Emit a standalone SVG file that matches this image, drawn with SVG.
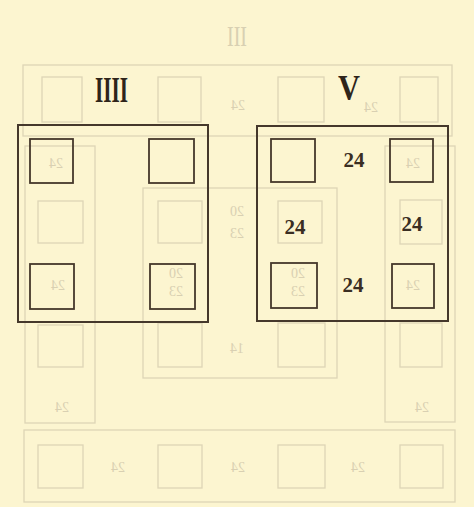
<svg xmlns="http://www.w3.org/2000/svg" width="474" height="507" viewBox="0 0 474 507">
<style>
.bg{fill:#fcf5d0}
.f{fill:none;stroke:#ddd5b5;stroke-width:1.3}
.b{fill:none;stroke:#45382b;stroke-width:2}
.bs{fill:none;stroke:#45382b;stroke-width:1.8}
.ft{font-family:"Liberation Serif",serif;font-size:14px;fill:#d9d0b2;text-anchor:middle}
.bt{font-family:"Liberation Serif",serif;font-weight:bold;font-size:21px;fill:#3a2e22;text-anchor:middle}
.rn{font-family:"Liberation Serif",serif;font-weight:bold;font-size:36px;fill:#2e241a;text-anchor:middle}
</style>
<rect class="bg" x="0" y="0" width="474" height="507"/>
<g id="faded">
  <text x="237" y="46" style="font-family:'Liberation Serif',serif;font-size:30px;fill:#d8d0b2;text-anchor:middle" textLength="20" lengthAdjust="spacingAndGlyphs">III</text>
  <rect class="f" x="23" y="65" width="429" height="71"/>
  <rect class="f" x="42" y="77" width="40" height="45"/>
  <rect class="f" x="158" y="77" width="43" height="45"/>
  <rect class="f" x="278" y="77" width="46" height="45"/>
  <rect class="f" x="400" y="77" width="38" height="45"/>
  <rect class="f" x="25" y="146" width="70" height="277"/>
  <rect class="f" x="385" y="146" width="70" height="276"/>
  <rect class="f" x="143" y="188" width="194" height="190"/>
  <rect class="f" x="38" y="201" width="45" height="42"/>
  <rect class="f" x="158" y="201" width="44" height="42"/>
  <rect class="f" x="278" y="201" width="44" height="42"/>
  <rect class="f" x="400" y="200" width="42" height="44"/>
  <rect class="f" x="38" y="325" width="45" height="42"/>
  <rect class="f" x="158" y="323" width="44" height="44"/>
  <rect class="f" x="278" y="323" width="47" height="44"/>
  <rect class="f" x="400" y="323" width="42" height="44"/>
  <rect class="f" x="24" y="430" width="431" height="72"/>
  <rect class="f" x="38" y="445" width="45" height="43"/>
  <rect class="f" x="158" y="445" width="44" height="43"/>
  <rect class="f" x="278" y="445" width="47" height="43"/>
  <rect class="f" x="400" y="445" width="43" height="43"/>
  <text class="ft" transform="translate(238,110) scale(-1,1)">24</text>
  <text class="ft" transform="translate(371,112) scale(-1,1)">24</text>
  <text class="ft" transform="translate(56,168) scale(-1,1)">24</text>
  <text class="ft" transform="translate(58,290) scale(-1,1)">24</text>
  <text class="ft" transform="translate(176,278) scale(-1,1)">20</text>
  <text class="ft" transform="translate(176,296) scale(-1,1)">23</text>
  <text class="ft" transform="translate(237,216) scale(-1,1)">20</text>
  <text class="ft" transform="translate(237,238) scale(-1,1)">23</text>
  <text class="ft" transform="translate(298,278) scale(-1,1)">20</text>
  <text class="ft" transform="translate(298,296) scale(-1,1)">23</text>
  <text class="ft" transform="translate(413,168) scale(-1,1)">24</text>
  <text class="ft" transform="translate(413,290) scale(-1,1)">24</text>
  <text class="ft" transform="translate(237,353) scale(-1,1)">14</text>
  <text class="ft" transform="translate(62,412) scale(-1,1)">24</text>
  <text class="ft" transform="translate(422,412) scale(-1,1)">24</text>
  <text class="ft" transform="translate(118,472) scale(-1,1)">24</text>
  <text class="ft" transform="translate(238,472) scale(-1,1)">24</text>
  <text class="ft" transform="translate(358,472) scale(-1,1)">24</text>
</g>
<g id="box-IIII">
  <rect class="b" x="18" y="125" width="190" height="197"/>
  <rect class="bs" x="30" y="139" width="43" height="44"/>
  <rect class="bs" x="149" y="139" width="45" height="44"/>
  <rect class="bs" x="30" y="264" width="44" height="45"/>
  <rect class="bs" x="150" y="264" width="45" height="45"/>
  <text class="rn" x="111.5" y="102" textLength="33" lengthAdjust="spacingAndGlyphs">IIII</text>
</g>
<g id="box-V">
  <rect class="b" x="257" y="126" width="191" height="195"/>
  <rect class="bs" x="271" y="139" width="44" height="43"/>
  <rect class="bs" x="390" y="139" width="43" height="43"/>
  <rect class="bs" x="271" y="263" width="46" height="45"/>
  <rect class="bs" x="392" y="264" width="42" height="44"/>
  <text class="rn" x="349" y="100" textLength="22" lengthAdjust="spacingAndGlyphs">V</text>
  <text class="bt" x="354" y="167">24</text>
  <text class="bt" x="295" y="234">24</text>
  <text class="bt" x="412" y="231">24</text>
  <text class="bt" x="353" y="292">24</text>
</g>
</svg>
